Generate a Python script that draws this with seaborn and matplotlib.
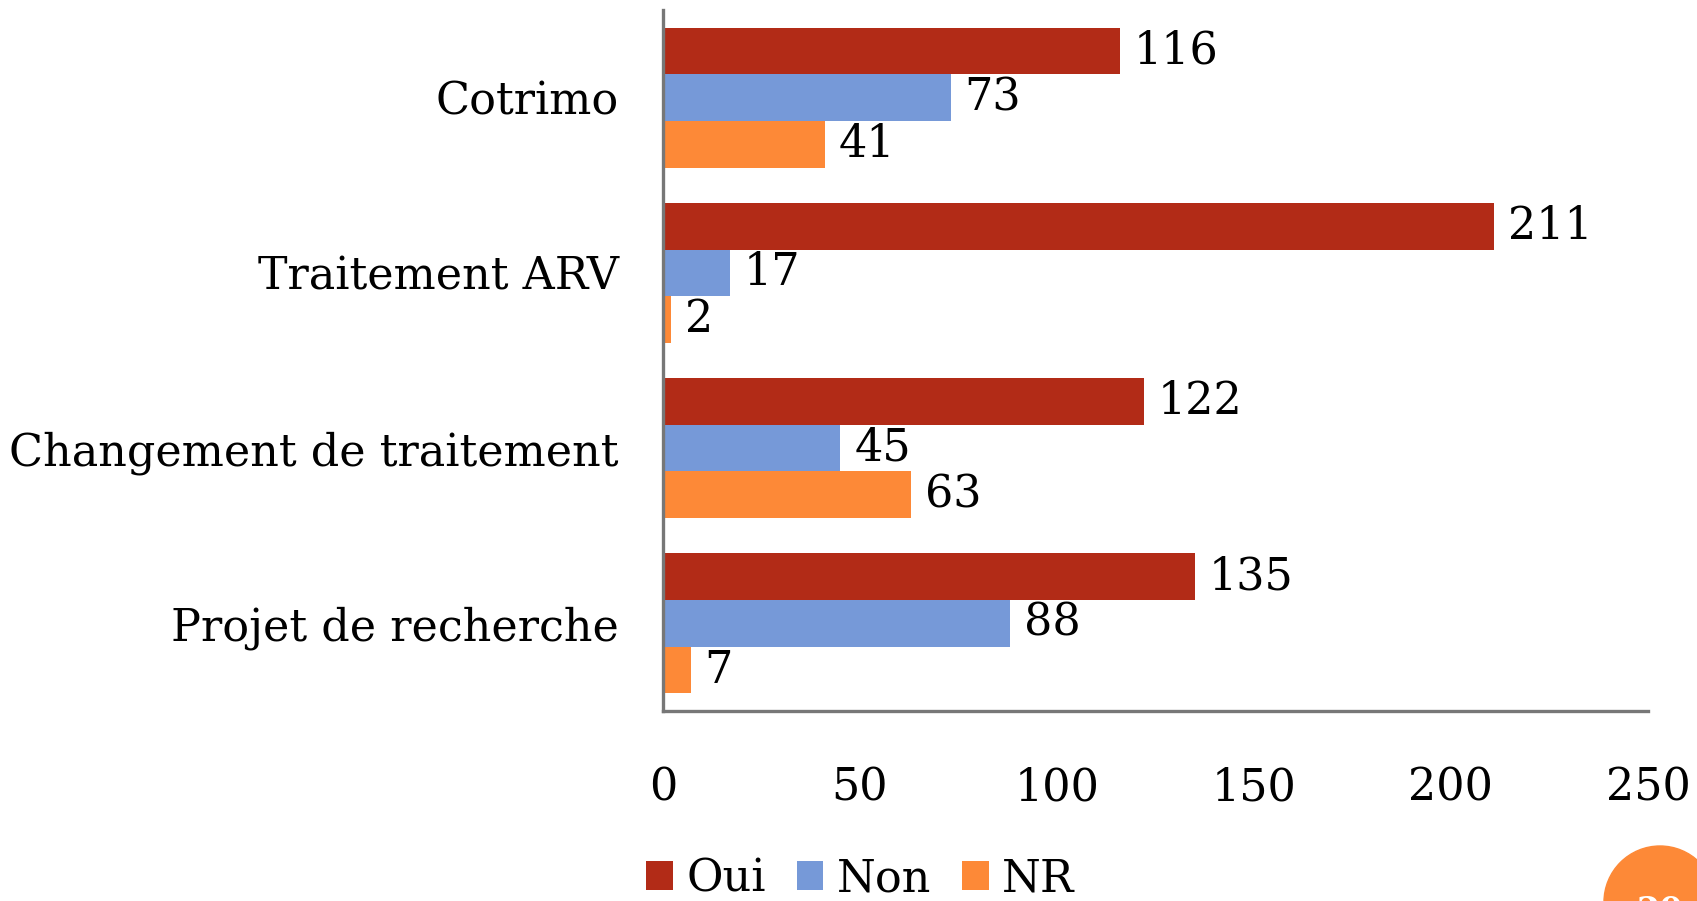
import pandas as pd
import matplotlib.pyplot as plt
import seaborn as sns
from matplotlib.patches import Ellipse

categories = ['Cotrimo', 'Traitement ARV', 'Changement de traitement', 'Projet de recherche']
oui = [116, 211, 122, 135]
non = [73, 17, 45, 88]
nr = [41, 2, 63, 7]
series = ['Oui', 'Non', 'NR']
colors = ['#B22B17', '#7699D8', '#FD8937']

df = pd.DataFrame({'categorie': categories, 'Oui': oui, 'Non': non, 'NR': nr})
df = df.melt(id_vars='categorie', var_name='reponse', value_name='n')

sns.set_theme(style='white')
plt.rcParams['font.family'] = ['DejaVu Serif']
plt.rcParams['text.color'] = 'black'
fs = 32

fig = plt.figure(figsize=(16.97, 9.01), dpi=100)
ax = fig.add_axes([0.3907, 0.2109, 0.5804, 0.778])

sns.barplot(data=df, y='categorie', x='n', hue='reponse', hue_order=series,
            palette=colors, orient='h', width=0.8, saturation=1, linewidth=0,
            ax=ax, legend=True)

for cont in ax.containers:
    ax.bar_label(cont, padding=10, fontsize=fs, color='black')

ax.set_xlim(0, 250)
ax.set_ylim(3.5, -0.5)
ax.set_xticks([0, 50, 100, 150, 200, 250])
ax.set_xlabel('')
ax.set_ylabel('')
ax.tick_params(axis='x', length=0, pad=40, labelsize=fs, labelcolor='black')
ax.tick_params(axis='y', length=0, pad=32, labelsize=fs, labelcolor='black')
for s in ['top', 'right']:
    ax.spines[s].set_visible(False)
for s in ['left', 'bottom']:
    ax.spines[s].set_color('#777777')
    ax.spines[s].set_linewidth(2.4)

handles, labels = ax.get_legend_handles_labels()
ax.get_legend().remove()
fig.legend(handles, labels, loc='center', bbox_to_anchor=(0.507, 0.025), ncol=3,
           frameon=False, fontsize=fs, handlelength=0.6, handleheight=0.6,
           handletextpad=0.3, columnspacing=0.7, borderaxespad=0)

# pastille du numero de diapo (rayon 56 px)
fig.patches.append(Ellipse((1660 / 1697, 1 - 902 / 901), 112 / 1697, 112 / 901,
                           transform=fig.transFigure, color='#FD8937',
                           figure=fig))
fig.text(1660 / 1697, -0.012, '20', color='white', fontsize=24, ha='center',
         va='center', fontweight='bold')

fig.savefig('out.png', dpi=100)
